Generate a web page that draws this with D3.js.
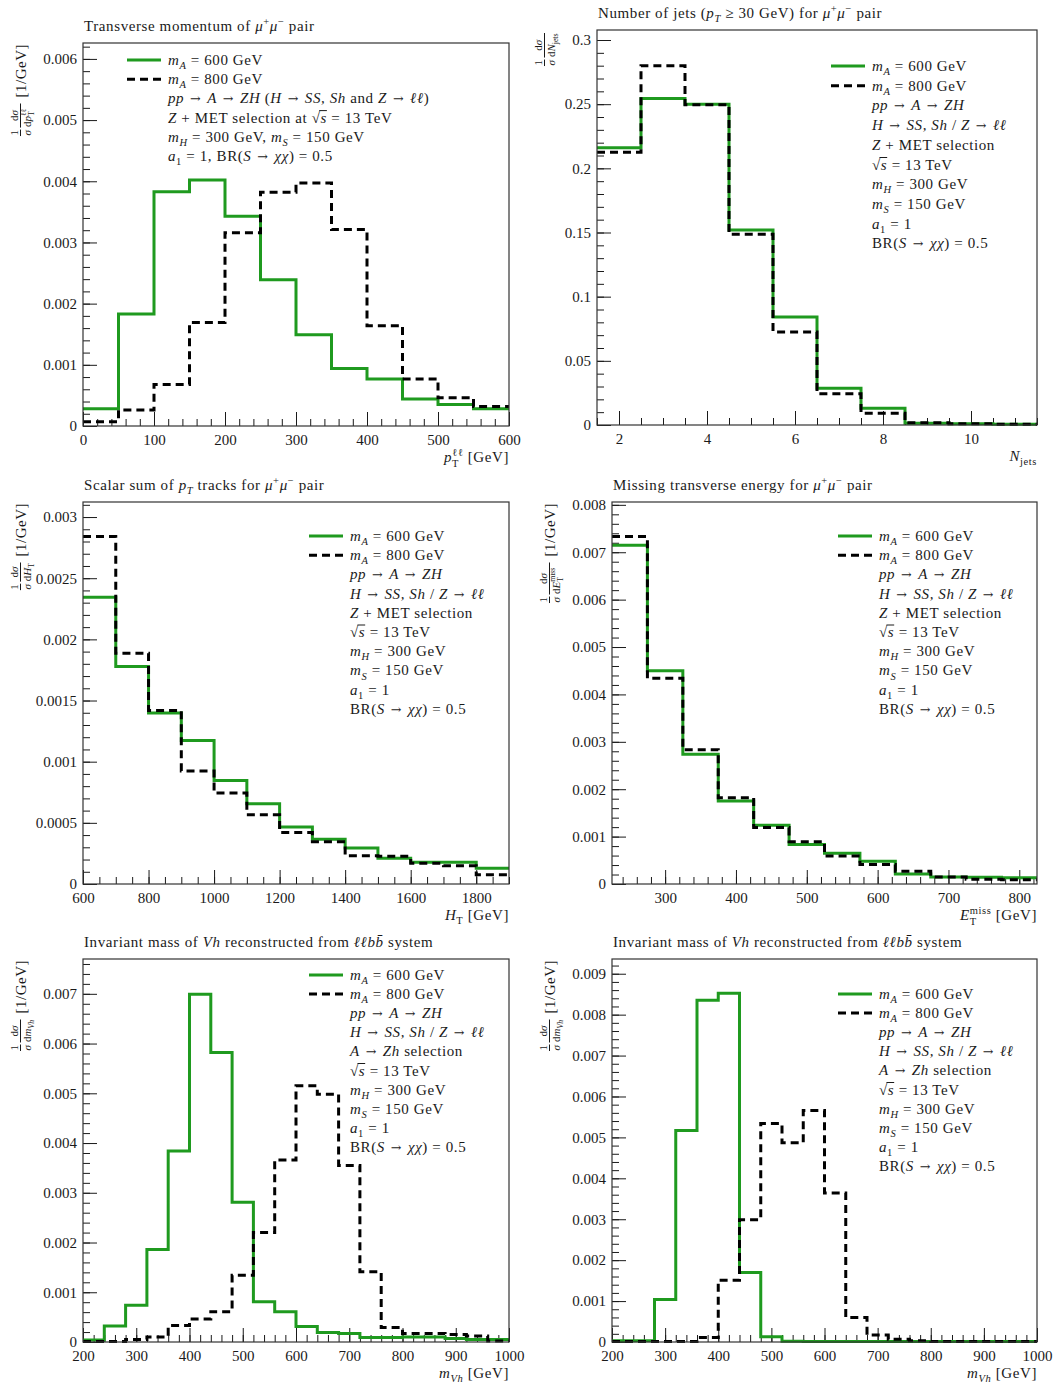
<!DOCTYPE html>
<html><head><meta charset="utf-8">
<script src="https://cdn.jsdelivr.net/npm/d3@7"></script>
<style>
body{margin:0;background:#fff}
svg text{font-family:"Liberation Serif","Times New Roman",serif;fill:#1a1a1a}
</style></head><body>
<svg id="c" width="1060" height="1387"></svg>
<script>
// ---------------- DATA ----------------
// Panel 1: pT of mu+mu- pair
const ptEdges = [0,50,100,150,200,250,300,350,400,450,500,550,600];
const ptA600 = [0.00028,0.00183,0.00383,0.00402,0.00343,0.00239,0.00149,0.00094,0.00077,0.00044,0.00035,0.00028];
const ptA800 = [0.00007,0.00026,0.00068,0.00169,0.00316,0.00382,0.00397,0.00321,0.00164,0.00077,0.00046,0.00032];
const ptXTicks = [0,100,200,300,400,500,600];
const ptYTicks = [0,0.001,0.002,0.003,0.004,0.005,0.006];

// Panel 2: number of jets
const njEdges = [1.5,2.5,3.5,4.5,5.5,6.5,7.5,8.5,9.5,10.5,11.5];
const njA600 = [0.216,0.2545,0.250,0.152,0.0842,0.0286,0.013,0.0013,0.001,0.0005];
const njA800 = [0.2125,0.280,0.2496,0.1486,0.0725,0.0244,0.0091,0.0018,0.001,0.0005];
const njXTicks = [2,4,6,8,10];
const njYTicks = [0,0.05,0.1,0.15,0.2,0.25,0.3];

// Panel 3: HT
const htEdges = [600,700,800,900,1000,1100,1200,1300,1400,1500,1600,1700,1800,1900];
const htA600 = [0.002344,0.001778,0.001397,0.001173,0.000847,0.000656,0.000466,0.000365,0.000294,0.00021,0.000177,0.000177,0.000128];
const htA800 = [0.00284,0.001887,0.001418,0.000923,0.000743,0.000566,0.000422,0.000346,0.000231,0.000226,0.000169,0.00015,0.000076];
const htXTicks = [600,800,1000,1200,1400,1600,1800];
const htYTicks = [0,0.0005,0.001,0.0015,0.002,0.0025,0.003];

// Panel 4: MET
const metEdges = [225,275,325,375,425,475,525,575,625,675,725,775,825];
const metA600 = [0.00715,0.0045,0.00274,0.00175,0.00124,0.000835,0.00065,0.00048,0.00021,0.000147,0.00014,0.00013];
const metA800 = [0.00733,0.00434,0.00283,0.00182,0.00119,0.00089,0.00059,0.00041,0.00027,0.00015,0.0001,0.00009];
const metXTicks = [300,400,500,600,700,800];
const metYTicks = [0,0.001,0.002,0.003,0.004,0.005,0.006,0.007,0.008];

// Panel 5 & 6: m_Vh
const mvhEdges = [200,240,280,320,360,400,440,480,520,560,600,640,680,720,760,800,840,880,920,960,1000];
const mvh1A600 = [0.00004,0.00032,0.00074,0.00186,0.00384,0.00699,0.00582,0.00281,0.00081,0.00061,0.00031,0.00019,0.00017,0.00009,0.00009,0.0001,0.0001,0.00007,0.00005,0.00005];
const mvh1A800 = [0.00001,0.00001,0.00005,0.0001,0.00033,0.00046,0.00061,0.00134,0.0022,0.00366,0.00515,0.00498,0.00355,0.00141,0.00029,0.00017,0.00017,0.00015,0.00012,0.00002];
const mvh2A600 = [0.00003,0.00003,0.00104,0.00517,0.00835,0.00852,0.0017,0.00013,0.00002,0.00001,0.00001,0.00001,0.00001,0.00001,0.00001,0.00001,0.00001,0.00001,0.00001,0.00001];
const mvh2A800 = [0.00001,0.00001,0.00001,0.00001,0.00011,0.00151,0.00299,0.00534,0.00487,0.00566,0.00364,0.0006,0.00017,0.00007,0.00003,0.00001,0.00001,0.00001,0.00001,0.00001];
const mvhXTicks = [200,300,400,500,600,700,800,900,1000];
const mvh1YTicks = [0,0.001,0.002,0.003,0.004,0.005,0.006,0.007];
const mvh2YTicks = [0,0.001,0.002,0.003,0.004,0.005,0.006,0.007,0.008,0.009];

const seriesNames = ["{i:m}{si:A} = 600 GeV", "{i:m}{si:A} = 800 GeV"];
const infoLong = ["{i:pp} → {i:A} → {i:ZH} ({i:H} → {i:SS, Sh} and {i:Z} → {i:ℓℓ})",
  "{i:Z} + MET selection at {sq:s} = 13 TeV",
  "{i:m}{si:H} = 300 GeV, {i:m}{si:S} = 150 GeV",
  "{i:a}{s:1} = 1, BR({i:S} → {i:χχ}) = 0.5"];
const infoMET = ["{i:pp} → {i:A} → {i:ZH}", "{i:H} → {i:SS, Sh} / {i:Z} → {i:ℓℓ}", "{i:Z} + MET selection",
  "{sq:s} = 13 TeV", "{i:m}{si:H} = 300 GeV", "{i:m}{si:S} = 150 GeV", "{i:a}{s:1} = 1", "BR({i:S} → {i:χχ}) = 0.5"];
const infoZh = ["{i:pp} → {i:A} → {i:ZH}", "{i:H} → {i:SS, Sh} / {i:Z} → {i:ℓℓ}", "{i:A} → {i:Zh} selection",
  "{sq:s} = 13 TeV", "{i:m}{si:H} = 300 GeV", "{i:m}{si:S} = 150 GeV", "{i:a}{s:1} = 1", "BR({i:S} → {i:χχ}) = 0.5"];

const muPair = "{i:μ}{p:+}{i:μ}{p:−} pair";
const panels = [
  {title:"Transverse momentum of " + muPair, edges:ptEdges, a:ptA600, b:ptA800, xdom:[0,600], ydom:[0,0.00626],
   xt:ptXTicks, yt:ptYTicks, xMinor:20, yMinor:0.0002, xTitle:"{i:p}{ps:ℓℓ|T} [GeV]",
   yLab:[["1","{i:σ}"],["d{i:σ}","d{i:p}{ps:ℓℓ|T}"],"[1/GeV]"], info:infoLong},
  {title:"Number of jets ({i:p}{si:T} ≥ 30 GeV) for " + muPair, edges:njEdges, a:njA600, b:njA800, xdom:[1.5,11.5], ydom:[0,0.3078],
   xt:njXTicks, yt:njYTicks, xMinor:0.5, yMinor:0.01, xTitle:"{i:N}{s:jets}",
   yLab:[["1","{i:σ}"],["d{i:σ}","d{i:N}{s:jets}"]], info:infoMET},
  {title:"Scalar sum of {i:p}{si:T} tracks for " + muPair, edges:htEdges, a:htA600, b:htA800, xdom:[600,1900], ydom:[0,0.003123],
   xt:htXTicks, yt:htYTicks, xMinor:50, yMinor:0.0001, xTitle:"{i:H}{s:T} [GeV]",
   yLab:[["1","{i:σ}"],["d{i:σ}","d{i:H}{s:T}"],"[1/GeV]"], info:infoMET},
  {title:"Missing transverse energy for " + muPair, edges:metEdges, a:metA600, b:metA800, xdom:[225,825], ydom:[0,0.00806],
   xt:metXTicks, yt:metYTicks, xMinor:20, yMinor:0.0002, xTitle:"{i:E}{ps:miss|T} [GeV]",
   yLab:[["1","{i:σ}"],["d{i:σ}","d{i:E}{ps:miss|T}"],"[1/GeV]"], info:infoMET},
  {title:"Invariant mass of {i:Vh} reconstructed from {i:ℓℓbb̄} system", edges:mvhEdges, a:mvh1A600, b:mvh1A800, xdom:[200,1000], ydom:[0,0.0077],
   xt:mvhXTicks, yt:mvh1YTicks, xMinor:20, yMinor:0.0002, xTitle:"{i:m}{si:Vh} [GeV]",
   yLab:[["1","{i:σ}"],["d{i:σ}","d{i:m}{si:Vh}"],"[1/GeV]"], info:infoZh},
  {title:"Invariant mass of {i:Vh} reconstructed from {i:ℓℓbb̄} system", edges:mvhEdges, a:mvh2A600, b:mvh2A800, xdom:[200,1000], ydom:[0,0.00936],
   xt:mvhXTicks, yt:mvh2YTicks, xMinor:20, yMinor:0.0002, xTitle:"{i:m}{si:Vh} [GeV]",
   yLab:[["1","{i:σ}"],["d{i:σ}","d{i:m}{si:Vh}"],"[1/GeV]"], info:infoZh}
];

// ---------------- LAYOUT ----------------
const layout = [
  {L:83,R:509,T:43,B:426, gx:26, legX:127, legY:60, legDy:19.2},
  {L:597,R:1037,T:30,B:425, gx:550, legX:831, legY:66, legDy:19.7},
  {L:83,R:509,T:502,B:884, gx:26, legX:309, legY:536, legDy:19.2},
  {L:612,R:1037,T:502,B:884, gx:555, legX:838, legY:536, legDy:19.2},
  {L:83,R:509,T:959,B:1342, gx:26, legX:309, legY:975, legDy:19.1},
  {L:612,R:1037,T:959,B:1342, gx:555, legX:838, legY:994, legDy:19.1}
];
const GREEN = "#1f9a1f", INK = "#1a1a1a", FS = 15, LS = 0.6;

// rich text: {i:..} italic, {s:..} sub, {si:..} italic sub, {p:..} sup, {ps:sup|sub}, {sq:..} sqrt, arrows
function rich(text, str, fs) {
  str = str.replace(/→/g, "{a:→}");
  const re = /\{(\w+):([^}]*)\}/g;
  let last = 0, m, shift = 0, pend = 0, count = 0;
  const sqrts = [];
  const small = fs * 0.7;
  const add = (t, o = {}) => {
    const ts = text.append("tspan").text(t).attr("font-size", o.size || fs);
    if (o.italic) ts.attr("font-style", "italic");
    if (o.family) ts.attr("font-family", o.family);
    const target = o.shift || 0;
    if (target !== shift) { ts.attr("dy", target - shift); shift = target; }
    const dx = (o.dx || 0) + pend; pend = 0;
    if (dx) ts.attr("dx", dx);
    count += [...t].length;
    return ts;
  };
  while ((m = re.exec(str))) {
    if (m.index > last) add(str.slice(last, m.index));
    const k = m[1], v = m[2];
    if (k === "i") add(v, {italic: true});
    else if (k === "a") { add(v, {family: "DejaVu Serif", size: fs * 0.85, dx: 1.5}); pend = 1.5; }
    else if (k === "s") add(v, {size: small, shift: fs * 0.28});
    else if (k === "si") add(v, {size: small, shift: fs * 0.28, italic: true});
    else if (k === "p") add(v, {size: small, shift: -fs * 0.42});
    else if (k === "ps") {
      const [a, b] = v.split("|");
      const t1 = add(a, {size: small, shift: -fs * 0.42});
      const w1 = t1.node().getComputedTextLength();
      const t2 = add(b, {size: small, shift: fs * 0.3, dx: -w1});
      const w2 = t2.node().getComputedTextLength();
      if (w1 > w2) pend = w1 - w2;
    } else if (k === "sq") {
      const i0 = count; add("√"); add(v, {italic: true});
      sqrts.push([i0, i0 + 1, [...v].length]);
    }
    last = re.lastIndex;
  }
  if (last < str.length) add(str.slice(last));
  // overline bars for square roots
  const parent = d3.select(text.node().parentNode);
  const by = +text.attr("y");
  sqrts.forEach(([ir, is, n]) => {
    const er = text.node().getExtentOfChar(ir);
    const ee = text.node().getExtentOfChar(is + n - 1);
    parent.append("line").attr("x1", er.x + er.width - LS - 0.8).attr("x2", ee.x + ee.width - LS + 0.5)
      .attr("y1", by - fs * 0.8).attr("y2", by - fs * 0.8).attr("stroke", INK).attr("stroke-width", 1);
  });
  return text;
}

const svg = d3.select("#c");

panels.forEach((p, i) => {
  const l = layout[i];
  const g = svg.append("g");
  const x = d3.scaleLinear().domain(p.xdom).range([l.L, l.R]);
  const y = d3.scaleLinear().domain(p.ydom).range([l.B, l.T]);

  // minor ticks
  const xm = d3.range(Math.ceil(p.xdom[0] / p.xMinor) * p.xMinor, p.xdom[1] + 1e-9, p.xMinor);
  const ym = d3.range(0, p.ydom[1] + 1e-12, p.yMinor);
  const axStyle = s => { s.select(".domain").remove(); s.selectAll("line").attr("stroke", INK).attr("stroke-width", 1); };
  g.append("g").attr("transform", `translate(0,${l.B})`)
    .call(d3.axisBottom(x).tickValues(xm).tickSizeInner(-7).tickSizeOuter(0).tickFormat("")).call(axStyle);
  g.append("g").attr("transform", `translate(${l.L},0)`)
    .call(d3.axisLeft(y).tickValues(ym).tickSizeInner(-7).tickSizeOuter(0).tickFormat("")).call(axStyle);
  // major ticks
  const xa = g.append("g").attr("transform", `translate(0,${l.B})`)
    .call(d3.axisBottom(x).tickValues(p.xt).tickSizeInner(-14).tickSizeOuter(0).tickPadding(8).tickFormat(d => String(d))).call(axStyle);
  const ya = g.append("g").attr("transform", `translate(${l.L},0)`)
    .call(d3.axisLeft(y).tickValues(p.yt).tickSizeInner(-14).tickSizeOuter(0).tickPadding(6)
      .tickFormat(d => d === 0 ? "0" : String(+d.toFixed(6)))).call(axStyle);
  [xa, ya].forEach(a => a.selectAll("text").attr("font-size", FS).attr("font-family", null).attr("fill", INK));

  // histograms
  const line = d3.line().x(d => x(d[0])).y(d => y(d[1])).curve(d3.curveStepAfter);
  const pts = vals => { const r = vals.map((v, k) => [p.edges[k], v]); r.push([p.edges[p.edges.length - 1], vals[vals.length - 1]]); return r; };
  g.append("path").attr("d", line(pts(p.a))).attr("fill", "none").attr("stroke", GREEN).attr("stroke-width", 3);
  g.append("path").attr("d", line(pts(p.b))).attr("fill", "none").attr("stroke", "#000").attr("stroke-width", 3).attr("stroke-dasharray", "8,5");

  // frame
  g.append("rect").attr("x", l.L).attr("y", l.T).attr("width", l.R - l.L).attr("height", l.B - l.T)
    .attr("fill", "none").attr("stroke", "#333").attr("stroke-width", 1.2);

  // title
  rich(g.append("text").attr("x", l.L + 1).attr("y", l.T - 12).attr("letter-spacing", LS), p.title, FS);

  // x title
  rich(g.append("text").attr("x", l.R).attr("y", l.B + 36).attr("text-anchor", "end").attr("letter-spacing", LS), p.xTitle, FS);

  // y title (rotated)
  const yg = g.append("g");
  let cx = 0;
  const ffs = 11;
  p.yLab.forEach(part => {
    if (Array.isArray(part)) {
      const n = rich(yg.append("text").attr("y", -8), part[0], ffs);
      const d = rich(yg.append("text").attr("y", 4.5), part[1], ffs);
      const wn = n.node().getComputedTextLength(), wd = d.node().getComputedTextLength();
      const w = Math.max(wn, wd) + 1;
      n.attr("x", cx + (w - wn) / 2); d.attr("x", cx + (w - wd) / 2);
      yg.append("line").attr("x1", cx).attr("x2", cx + w).attr("y1", -5.5).attr("y2", -5.5).attr("stroke", INK).attr("stroke-width", 1);
      cx += w + 2;
    } else {
      const t = rich(yg.append("text").attr("x", cx + 4).attr("y", 0).attr("letter-spacing", 0.5), part, 15);
      cx += 4 + t.node().getComputedTextLength();
    }
  });
  yg.attr("transform", `translate(${l.gx},${l.T + cx + 1}) rotate(-90)`);

  // legend
  const rows = seriesNames.concat(p.info);
  rows.forEach((r, k) => {
    const yy = l.legY + k * l.legDy;
    if (k === 0) g.append("line").attr("x1", l.legX).attr("x2", l.legX + 34).attr("y1", yy).attr("y2", yy).attr("stroke", GREEN).attr("stroke-width", 3);
    if (k === 1) g.append("line").attr("x1", l.legX).attr("x2", l.legX + 34).attr("y1", yy).attr("y2", yy).attr("stroke", "#000").attr("stroke-width", 3).attr("stroke-dasharray", "8,5");
    rich(g.append("text").attr("x", l.legX + 41).attr("y", yy + 5).attr("letter-spacing", LS), r, FS);
  });
});
</script>
</body></html>
